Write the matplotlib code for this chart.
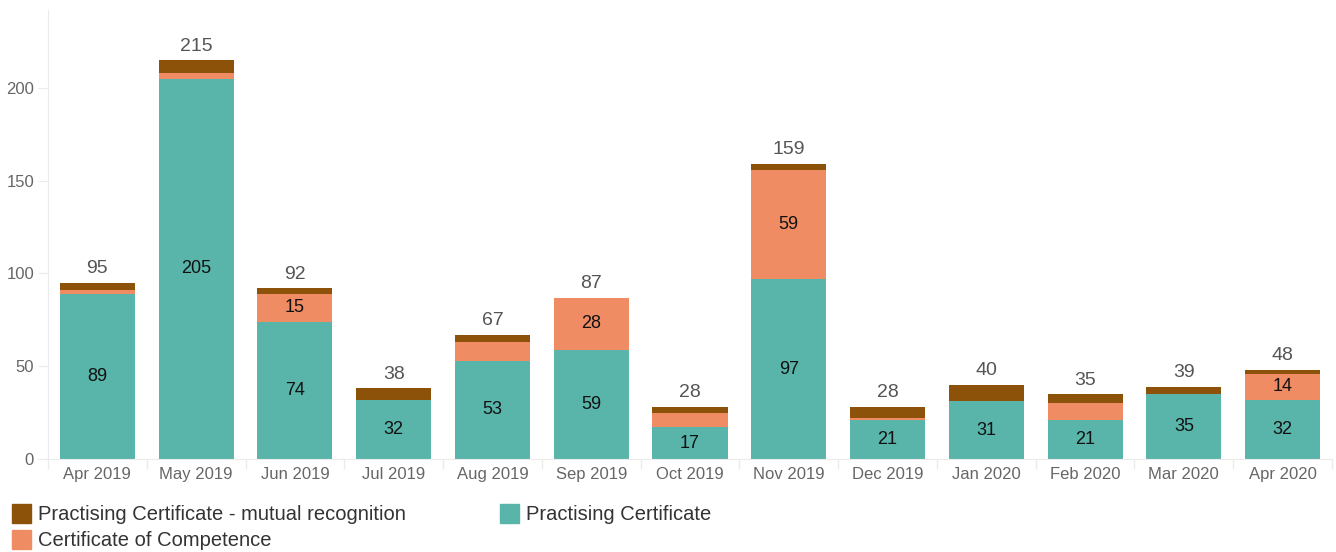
import matplotlib
matplotlib.use("Agg")
import matplotlib.pyplot as plt
import numpy as np
from matplotlib.patches import Rectangle

plt.rcParams['font.family'] = ['Liberation Sans', 'DejaVu Sans']

months = ["Apr 2019", "May 2019", "Jun 2019", "Jul 2019", "Aug 2019", "Sep 2019",
          "Oct 2019", "Nov 2019", "Dec 2019", "Jan 2020", "Feb 2020", "Mar 2020", "Apr 2020"]
practising = [89, 205, 74, 32, 53, 59, 17, 97, 21, 31, 21, 35, 32]
competence = [2, 3, 15, 0, 10, 28, 8, 59, 1, 0, 9, 0, 14]
mutual = [4, 7, 3, 6, 4, 0, 3, 3, 6, 9, 5, 4, 2]

c_teal = "#59b4aa"
c_orange = "#f08c64"
c_brown = "#8c520a"
grid_c = "#ebebeb"

fig = plt.figure(figsize=(13.36, 5.52), dpi=100)
ax = fig.add_axes([48/1336, 1-459/552, (1332-48)/1336, (459-10)/552])

x = np.arange(len(months))
pc = np.array(practising)
cc = np.array(competence)
mr = np.array(mutual)
w = 0.76
ax.bar(x, pc, w, color=c_teal)
ax.bar(x, cc, w, bottom=pc, color=c_orange)
ax.bar(x, mr, w, bottom=pc + cc, color=c_brown)

tot = pc + cc + mr
for i in range(len(x)):
    ax.annotate(str(tot[i]), (x[i], tot[i]), xytext=(0, 4), textcoords="offset points",
                ha="center", va="bottom", fontsize=14, color="#555555")
    ax.text(x[i], pc[i] / 2, str(pc[i]), ha="center", va="center", fontsize=13, color="#111111")
    if cc[i] >= 12:
        ax.text(x[i], pc[i] + cc[i] / 2, str(cc[i]), ha="center", va="center",
                fontsize=13, color="#111111")

ax.set_xlim(-0.5, 12.5)
ax.set_ylim(0, 242)
ax.set_xticks(x)
ax.set_xticklabels(months, fontsize=12, color="#666666")
ax.set_xticks(np.arange(-0.5, 13, 1), minor=True)
ax.tick_params(axis="x", which="major", length=0, pad=6)
ax.tick_params(axis="x", which="minor", length=7, color=grid_c, width=1)
ax.set_yticks([0, 50, 100, 150, 200])
ax.tick_params(axis="y", length=7, color=grid_c, labelsize=12, labelcolor="#666666", pad=3)
for s in ["top", "right"]:
    ax.spines[s].set_visible(False)
ax.spines["left"].set_color(grid_c)
ax.spines["bottom"].set_color(grid_c)

# legend
items = [(c_brown, "Practising Certificate - mutual recognition", 12, 514),
         (c_teal, "Practising Certificate", 500, 514),
         (c_orange, "Certificate of Competence", 12, 540)]
for col, lab, px, py in items:
    fig.patches.append(Rectangle((px/1336, 1-(py+9)/552), 19/1336, 19/552,
                                 transform=fig.transFigure, color=col))
    fig.text((px+26)/1336, 1-py/552, lab, fontsize=14.5, color="#333333", va="center", ha="left")

fig.savefig("out.png", dpi=100)
